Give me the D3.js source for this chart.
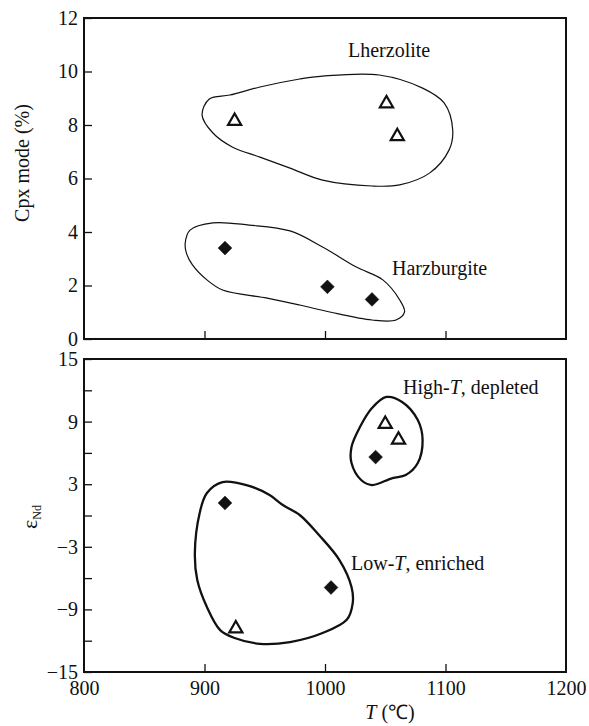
<!DOCTYPE html>
<html>
<head>
<meta charset="utf-8">
<script src="https://cdn.jsdelivr.net/npm/d3@7"></script>
<style>
  body { margin: 0; background: #fff; }
  text { font-family: "Liberation Serif", "Times New Roman", serif; fill: #111; }
</style>
</head>
<body>
<div id="chart"></div>
<script>
// Top panel: Cpx mode vs T
const lherzT = [925, 1051, 1060]
const lherzCpx = [8.2, 8.86, 7.63]
const harzT = [917, 1002, 1039]
const harzCpx = [3.4, 1.95, 1.48]

// Bottom panel: eps Nd vs T
const triT = [926, 1050, 1061]
const triNd = [-10.7, 8.9, 7.4]
const diaT = [917, 1005, 1042]
const diaNd = [1.2, -6.9, 5.6]

// Field outlines (T, value)
const lherzField = [[898, 8.37], [904, 8.97], [921, 9.12], [946, 9.42], [979, 9.72], [998, 9.83],
  [1045, 9.87], [1081, 9.38], [1099, 8.82], [1106, 7.81], [1103, 7.07], [1087, 6.21], [1062, 5.76],
  [1039, 5.72], [998, 5.94], [971, 6.39], [946, 6.8], [923, 7.18], [907, 7.7]]
const harzField = [[884, 3.59], [888, 4.07], [907, 4.34], [937, 4.26], [971, 4.04], [998, 3.44],
  [1026, 2.69], [1048, 2.21], [1062, 1.46], [1066, 1.01], [1059, 0.71], [1039, 0.71], [1004, 1.01],
  [979, 1.27], [952, 1.53], [915, 1.83], [902, 2.21], [890, 2.77], [885, 3.21]]
const lowTField = [[915, 3.21], [937, 2.83], [954, 1.96], [965, 1.0], [979, 0.05], [995, -1.87],
  [1012, -4.27], [1022, -6.85], [1023, -8.39], [1018, -10.0], [998, -11.26], [971, -12.13],
  [946, -12.3], [925, -11.74], [913, -10.98], [902, -8.77], [894, -6.18], [892, -3.6], [896, 0.24], [902, 2.16]]
const highTField = [[1051, 11.36], [1064, 10.88], [1077, 9.15], [1081, 7.24], [1077, 5.03],
  [1067, 3.88], [1056, 3.59], [1039, 2.92], [1030, 3.4], [1022, 5.03], [1022, 6.57], [1029, 8.48], [1039, 10.3]]

const xTicks = [800, 900, 1000, 1100, 1200]
const cpxTicks = [0, 2, 4, 6, 8, 10, 12]
const ndTicks = [15, 12, 9, 6, 3, 0, -3, -6, -9, -12, -15]
const ndLabels = [15, 9, 3, -3, -9, -15]

const W = 589, H = 726
const svg = d3.select("#chart").append("svg").attr("width", W).attr("height", H)

const x = d3.scaleLinear().domain([800, 1200]).range([84, 566])
const yTop = d3.scaleLinear().domain([0, 12]).range([339, 18])
const yBot = d3.scaleLinear().domain([-15, 15]).range([672, 359])

const fmt = d => d < 0 ? "\u2212" + Math.abs(d) : String(d)

function frame(y) {
  svg.append("rect")
    .attr("x", x(800)).attr("y", y.range()[1])
    .attr("width", x(1200) - x(800)).attr("height", y.range()[0] - y.range()[1])
    .attr("fill", "none").attr("stroke", "#111").attr("stroke-width", 2)
}

function styleAxis(g) {
  g.select(".domain").remove()
  g.selectAll(".tick line").attr("stroke", "#111").attr("stroke-width", 1.3)
  g.selectAll("text").attr("font-size", "20px").attr("fill", "#111")
    .attr("font-family", "Liberation Serif, serif")
}

// ---- top panel
frame(yTop)
svg.append("g").attr("transform", `translate(${x(800)},0)`)
  .call(d3.axisLeft(yTop).tickValues(cpxTicks).tickSize(-8).tickPadding(6).tickFormat(fmt))
  .call(styleAxis)
svg.append("g").attr("transform", `translate(0,${yTop(0)})`)
  .call(d3.axisBottom(x).tickValues([900, 1000, 1100]).tickSize(-8).tickFormat(""))
  .call(styleAxis)

// ---- bottom panel
frame(yBot)
svg.append("g").attr("transform", `translate(${x(800)},0)`)
  .call(d3.axisLeft(yBot).tickValues(ndTicks).tickSize(-8).tickPadding(6)
    .tickFormat(d => ndLabels.includes(d) ? fmt(d) : ""))
  .call(styleAxis)
svg.append("g").attr("transform", `translate(0,${yBot(-15)})`)
  .call(d3.axisBottom(x).tickValues(xTicks).tickSize(-8).tickPadding(9).tickFormat(fmt))
  .call(styleAxis)
  .call(g => g.selectAll(".tick line").filter(d => d === 800 || d === 1200).remove())

// ---- fields
const field = (y) => d3.line().x(d => x(d[0])).y(d => y(d[1])).curve(d3.curveCatmullRomClosed.alpha(0.5))
svg.append("path").attr("d", field(yTop)(lherzField)).attr("fill", "none").attr("stroke", "#111").attr("stroke-width", 1.2)
svg.append("path").attr("d", field(yTop)(harzField)).attr("fill", "none").attr("stroke", "#111").attr("stroke-width", 1.2)
svg.append("path").attr("d", field(yBot)(lowTField)).attr("fill", "none").attr("stroke", "#111").attr("stroke-width", 2.3)
svg.append("path").attr("d", field(yBot)(highTField)).attr("fill", "none").attr("stroke", "#111").attr("stroke-width", 2.3)

// ---- markers
const tri = d3.symbol().type(d3.symbolTriangle).size(75)
const dia = d3.symbol().type(d3.symbolSquare).size(95)

function markers(xs, ys, y, sym, open) {
  svg.append("g").selectAll("path").data(xs).join("path")
    .attr("d", sym)
    .attr("transform", (d, i) => `translate(${x(d)},${y(ys[i]) + (open ? 1.5 : 0)})` + (open ? "" : " rotate(45)"))
    .attr("fill", open ? "#fff" : "#111")
    .attr("stroke", "#111")
    .attr("stroke-width", open ? 2.2 : 0.5)
}
markers(lherzT, lherzCpx, yTop, tri, true)
markers(harzT, harzCpx, yTop, dia, false)
markers(triT, triNd, yBot, tri, true)
markers(diaT, diaNd, yBot, dia, false)

// ---- labels
const lab = (t, lx, ly) => svg.append("text").attr("x", lx).attr("y", ly).attr("font-size", "20px").text(t)
lab("Lherzolite", 348, 57)
lab("Harzburgite", 392, 275)

const hi = svg.append("text").attr("x", 403).attr("y", 394).attr("font-size", "20px")
hi.append("tspan").text("High-")
hi.append("tspan").attr("font-style", "italic").text("T")
hi.append("tspan").text(", depleted")

const lo = svg.append("text").attr("x", 351).attr("y", 570).attr("font-size", "20px")
lo.append("tspan").text("Low-")
lo.append("tspan").attr("font-style", "italic").text("T")
lo.append("tspan").text(", enriched")

svg.append("text")
  .attr("transform", "translate(29,163) rotate(-90)")
  .attr("text-anchor", "middle").attr("font-size", "20px")
  .text("Cpx mode (%)")

const eps = svg.append("text")
  .attr("transform", "translate(37,517) rotate(-90)")
  .attr("text-anchor", "middle").attr("font-size", "22px")
eps.append("tspan").text("\u03b5")
eps.append("tspan").attr("font-size", "12px").attr("dy", 4).text("Nd")

const tl = svg.append("text").attr("x", 390).attr("y", 719).attr("text-anchor", "middle").attr("font-size", "20px")
tl.append("tspan").attr("font-style", "italic").text("T")
tl.append("tspan").text(" (\u2103)")
</script>
</body>
</html>
